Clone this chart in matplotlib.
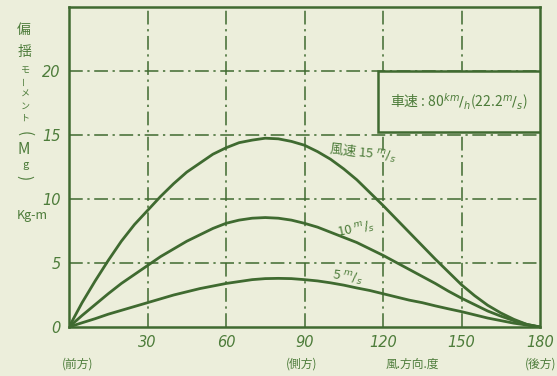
import matplotlib.pyplot as plt
from matplotlib.patches import Rectangle

plt.rcParams['font.family'] = ['Noto Sans CJK JP', 'DejaVu Sans']

# wind direction (deg) and yaw moment (kg-m)
angle = [0, 5, 10, 15, 20, 25, 30, 35, 40, 45, 50, 55, 60, 65, 70, 75, 80, 85, 90,
         95, 100, 105, 110, 115, 120, 125, 130, 135, 140, 145, 150, 155, 160, 165,
         170, 175, 180]
wind_15 = [0, 1.9, 3.6, 5.2, 6.7, 8.0, 9.1, 10.2, 11.2, 12.1, 12.8, 13.5, 14.0, 14.4,
           14.6, 14.75, 14.7, 14.5, 14.2, 13.7, 13.1, 12.35, 11.5, 10.5, 9.5, 8.45,
           7.4, 6.35, 5.3, 4.3, 3.3, 2.45, 1.7, 1.1, 0.6, 0.2, 0]
wind_10 = [0, 0.9, 1.75, 2.6, 3.4, 4.1, 4.8, 5.5, 6.1, 6.7, 7.2, 7.7, 8.1, 8.35, 8.5,
           8.55, 8.5, 8.35, 8.1, 7.8, 7.4, 7.0, 6.6, 6.1, 5.6, 5.05, 4.5, 3.95, 3.4,
           2.8, 2.25, 1.75, 1.25, 0.85, 0.5, 0.2, 0]
wind_5 = [0, 0.33, 0.65, 1.0, 1.3, 1.6, 1.9, 2.2, 2.5, 2.75, 3.0, 3.2, 3.4, 3.55, 3.7,
          3.78, 3.8, 3.78, 3.7, 3.6, 3.45, 3.27, 3.05, 2.85, 2.6, 2.35, 2.1, 1.9,
          1.65, 1.42, 1.2, 0.95, 0.7, 0.5, 0.3, 0.15, 0]

xticks = [30, 60, 90, 120, 150, 180]
yticks = [0, 5, 10, 15, 20]

bg = '#eceedb'
ink = '#3f6a30'
txt = '#4d7c3a'

W, H = 557, 376
fig = plt.figure(figsize=(W / 100, H / 100), dpi=100, facecolor=bg)
ax = fig.add_axes([69 / W, 49 / H, (540 - 69) / W, (327 - 7) / H])
ax.set_facecolor(bg)

ax.set_xlim(0, 180)
ax.set_ylim(0, 25)

# dash-dot grid
for x in xticks[:-1]:
    ax.plot([x, x], [0, 25], color=ink, lw=1.1, ls=(0, (9, 3, 1.5, 3)), zorder=1)
for y in yticks[1:]:
    ax.plot([0, 180], [y, y], color=ink, lw=1.1, ls=(0, (9, 3, 1.5, 3)), zorder=1)

for s in ax.spines.values():
    s.set_color(ink)
    s.set_linewidth(1.8)

for series in (wind_15, wind_10, wind_5):
    ax.plot(angle, series, color=ink, lw=2.0, zorder=3, solid_joinstyle='round')

# speed box
ax.add_patch(Rectangle((118, 15.2), 62, 4.8, facecolor=bg, edgecolor=ink,
                       lw=1.8, zorder=4))
ax.text(149, 17.6, '車速 : 80$^{km}/_{h}$(22.2$^{m}/_{s}$)', color=txt,
        fontsize=10, ha='center', va='center', zorder=5, style='italic')

# curve labels
ax.text(99, 13.6, '風速 15 $^{m}/_{s}$', color=txt, fontsize=9.5, rotation=-6,
        ha='left', va='center', style='italic')
ax.text(102, 7.6, '10 $^{m}/_{s}$', color=txt, fontsize=9.5, rotation=12,
        ha='left', va='center', style='italic')
ax.text(100, 3.8, '5 $^{m}/_{s}$', color=txt, fontsize=9.5, rotation=-8,
        ha='left', va='center', style='italic')

ax.set_xticks(xticks)
ax.set_xticklabels([str(v) for v in xticks], color=txt, fontsize=10.5,
                   style='italic', family='DejaVu Sans')
ax.set_yticks(yticks)
ax.set_yticklabels([str(v) for v in yticks], color=txt, fontsize=10.5,
                   style='italic', family='DejaVu Sans')
ax.tick_params(length=0, pad=6)


def ftext(x, y, s, **kw):
    kw.setdefault('ha', 'center')
    fig.text(x / W, 1 - y / H, s, color=txt, va='center', **kw)


# vertical y-axis label
ftext(24, 30, '偏', fontsize=10)
ftext(24, 52, '揺', fontsize=10)
ftext(25, 70, 'モ', fontsize=6.5)
ftext(25, 82, 'ー', fontsize=6.5, rotation=90)
ftext(25, 94, 'メ', fontsize=6.5)
ftext(25, 106, 'ン', fontsize=6.5)
ftext(25, 118, 'ト', fontsize=6.5)
ftext(24, 134, '(', fontsize=11, rotation=-90)
ftext(24, 150, 'M', fontsize=11, style='italic')
ftext(26, 165, 'g', fontsize=8, style='italic')
ftext(24, 178, ')', fontsize=11, rotation=-90)
ftext(32, 215, 'Kg-m', fontsize=9, style='italic')

# bottom direction labels
ftext(78, 364, '(前方)', fontsize=8.5)
ftext(302, 364, '(側方)', fontsize=8.5)
ftext(412, 364, '風.方向.度', fontsize=8.5)
ftext(556, 364, '(後方)', fontsize=8.5, ha='right')

fig.savefig('out.png', dpi=100, facecolor=bg)
